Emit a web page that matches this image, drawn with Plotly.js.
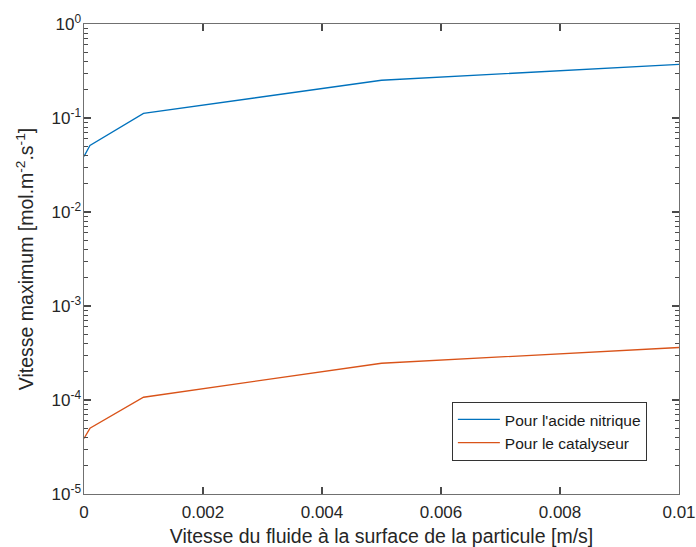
<!DOCTYPE html>
<html>
<head>
<meta charset="utf-8">
<script src="https://cdn.plot.ly/plotly-3.0.1.min.js"></script>
<style>body{margin:0;padding:0;background:#fff;}#chart{width:696px;height:547px;}</style>
</head>
<body>
<div id="chart"></div>
<script>
var fluidSpeed = [0, 0.0001, 0.001, 0.005, 0.01];
var acideNitrique = [0.039, 0.051, 0.112, 0.252, 0.372];
var catalyseur = [0.000039, 0.000050, 0.000107, 0.000246, 0.000362];
var seriesNames = ["Pour l'acide nitrique", "Pour le catalyseur"];
var xTickVals = [0, 0.002, 0.004, 0.006, 0.008, 0.01];
var xTickText = ["0", "0.002", "0.004", "0.006", "0.008", "0.01"];
var yTickVals = [1e-5, 1e-4, 1e-3, 1e-2, 1e-1, 1];
var yTickText = ["10<sup>-5</sup>", "10<sup>-4</sup>", "10<sup>-3</sup>", "10<sup>-2</sup>", "10<sup>-1</sup>", "10<sup>0</sup>"];

var axisColor = "#4a4a4a";
var data = [
  {x: fluidSpeed, y: acideNitrique, type: "scatter", mode: "lines", name: seriesNames[0],
   line: {color: "#0072BD", width: 1.3}},
  {x: fluidSpeed, y: catalyseur, type: "scatter", mode: "lines", name: seriesNames[1],
   line: {color: "#D95319", width: 1.3}},
  {x: fluidSpeed, y: acideNitrique, type: "scatter", mode: "lines", yaxis: "y2",
   showlegend: false, hoverinfo: "skip", line: {color: "rgba(0,0,0,0)", width: 0}}
];
var layout = {
  width: 696, height: 547,
  margin: {l: 84, r: 17, t: 24, b: 53},
  paper_bgcolor: "#fff", plot_bgcolor: "#fff",
  font: {family: "Liberation Sans, Arial, sans-serif", color: "#262626", size: 17},
  showlegend: true,
  legend: {x: 0.946, y: 0.196, xanchor: "right", yanchor: "top", bgcolor: "#fff",
    bordercolor: "#333", borderwidth: 1, font: {size: 15.5, color: "#1a1a1a"},
    tracegroupgap: 0, itemwidth: 42},
  xaxis: {
    range: [0, 0.01], tickvals: xTickVals, ticktext: xTickText,
    ticks: "inside", ticklen: 7, tickwidth: 1.2, tickcolor: axisColor, showgrid: false, zeroline: false,
    showline: true, linecolor: "#707070", linewidth: 1, mirror: "ticks",
    tickfont: {size: 17}, ticklabelstandoff: 3,
    title: {text: "Vitesse du fluide à la surface de la particule [m/s]", font: {size: 19.5}, standoff: 12}
  },
  yaxis: {
    type: "log", range: [-5, 0], tickmode: "linear", tick0: 0, dtick: 1, showticklabels: false,
    ticks: "inside", ticklen: 7, tickwidth: 1.2, tickcolor: axisColor, showgrid: false, zeroline: false,
    showline: true, linecolor: "#707070", linewidth: 1, mirror: "ticks",
    minor: {ticks: "inside", ticklen: 4, tickwidth: 1.2, tickcolor: axisColor, showgrid: false, dtick: "D1"}
  },
  yaxis2: {
    type: "log", range: [-5, 0], overlaying: "y", anchor: "x", side: "left",
    tickvals: yTickVals, ticktext: yTickText, ticks: "", showgrid: false, zeroline: false,
    showline: false, tickfont: {size: 17}, ticklabelstandoff: 2,
    title: {text: "Vitesse maximum [mol.m<sup>-2</sup>.s<sup>-1</sup>]", font: {size: 19.5}, standoff: 12}
  }
};
Plotly.newPlot("chart", data, layout, {displayModeBar: false, staticPlot: true});
</script>
</body>
</html>
